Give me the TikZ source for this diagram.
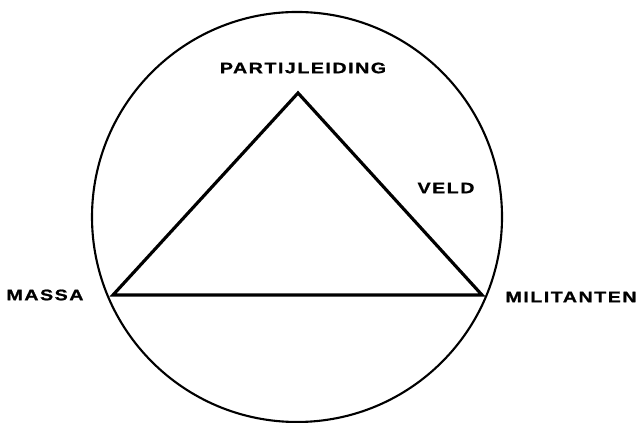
\documentclass[tikz,border=0pt]{standalone}
\usepackage{fontspec}
\setmainfont{Liberation Sans}
\newfontfamily\lblfont[LetterSpace=10,FakeStretch=1.3,FakeBold=1]{Liberation Sans}
\begin{document}
\begin{tikzpicture}[
  lbl/.style={font=\lblfont\bfseries\fontsize{4.3}{5}\selectfont, inner sep=0pt},
  side/.style={line width=0.9pt, line join=miter}
]
\useasboundingbox (0,0) rectangle (6.39,4.22);

\draw[line width=0.6pt] (2.97,2.05) circle (2.05);

\coordinate (top) at (2.98,3.29);
\coordinate (left) at (1.13,1.27);
\coordinate (right) at (4.82,1.27);
\draw[side] (left) -- (top) -- (right) -- cycle;

\node[lbl] (lead) at (3.03,3.54) {PARTIJLEIDING};
\node[lbl] (veld) at (4.46,2.34) {VELD};
\node[lbl] (mass) at (0.45,1.27) {MASSA};
\node[lbl] (mil) at (5.71,1.25) {MILITANTEN};
\end{tikzpicture}
\end{document}
